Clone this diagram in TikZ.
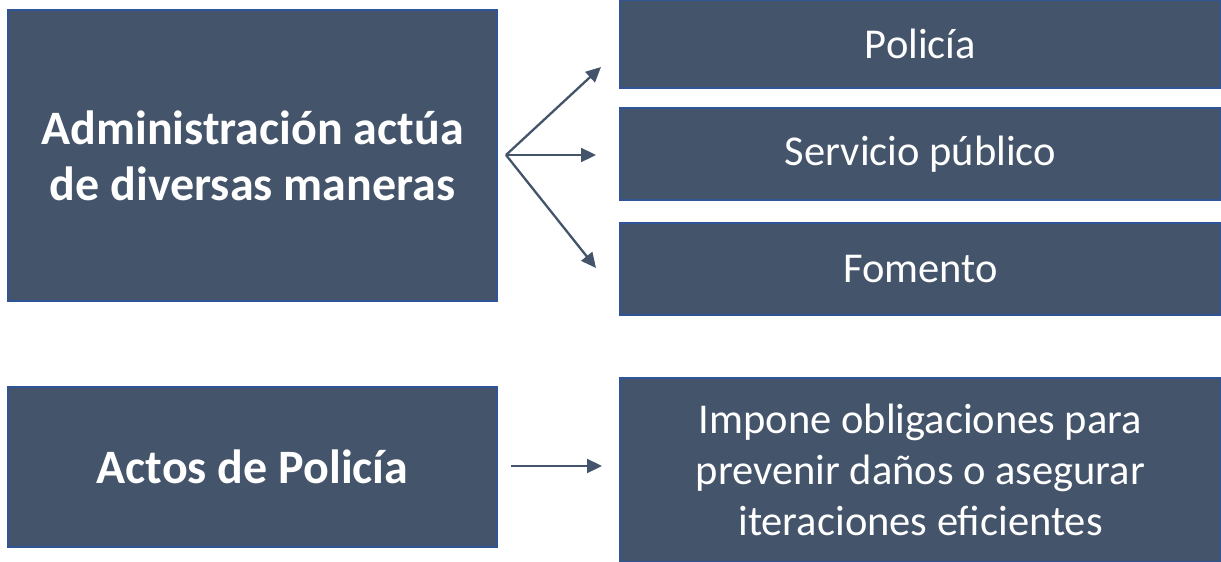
\documentclass[tikz,border=0pt]{standalone}
\usepackage{fontspec}
\setmainfont{Carlito}
\usepackage{xcolor}
\usetikzlibrary{positioning,arrows.meta}
\definecolor{boxfill}{HTML}{44546A}
\definecolor{boxline}{HTML}{2F5597}

\begin{document}
\begin{tikzpicture}[
x=1pt, y=-1pt,
box/.style={
  draw=boxline,
  fill=boxfill,
  line width=1.5pt,
  text=white,
  align=center,
  inner sep=0pt,
  font=\fontsize{42.5}{51}\selectfont
  },
big/.style={
  box,
  minimum width=489pt,
  font=\fontsize{48}{56}\selectfont\bfseries
  },
small/.style={
  box,
  minimum width=601pt
  },
link/.style={
  draw=boxfill,
  line width=2.3pt,
  -{Triangle[length=15pt,width=14pt]}
  }
]
\useasboundingbox (0,0) rectangle (1221,562);
% left column
\node[big, minimum height=291pt] (admin) at (252.5,155.5) {Administración actúa\\de diversas maneras};
\node[big, minimum height=160pt] (actos) at (252.5,467) {Actos de Policía};
% right column
\node[small, minimum height=88pt] (poli) at (920.5,44) {Policía};
\node[small, minimum height=92pt] (serv) at (920.5,154) {Servicio público};
\node[small, minimum height=92pt] (fom) at (920.5,269) {Fomento};
\node[small, minimum height=184pt] (impone) at (920.5,470) {Impone obligaciones para\\prevenir daños o asegurar\\iteraciones eficientes};
% arrows
\coordinate (fork) at (506,155);
\coordinate (to poli) at (601,67);
\coordinate (to serv) at (596,155);
\coordinate (to fom) at (596,268);
\coordinate (from actos) at (511,466);
\coordinate (to impone) at (602,466);
\draw[link] (fork) -- (to poli);
\draw[link] (fork) -- (to serv);
\draw[link] (fork) -- (to fom);
\draw[link] (from actos) -- (to impone);
\end{tikzpicture}
\end{document}
